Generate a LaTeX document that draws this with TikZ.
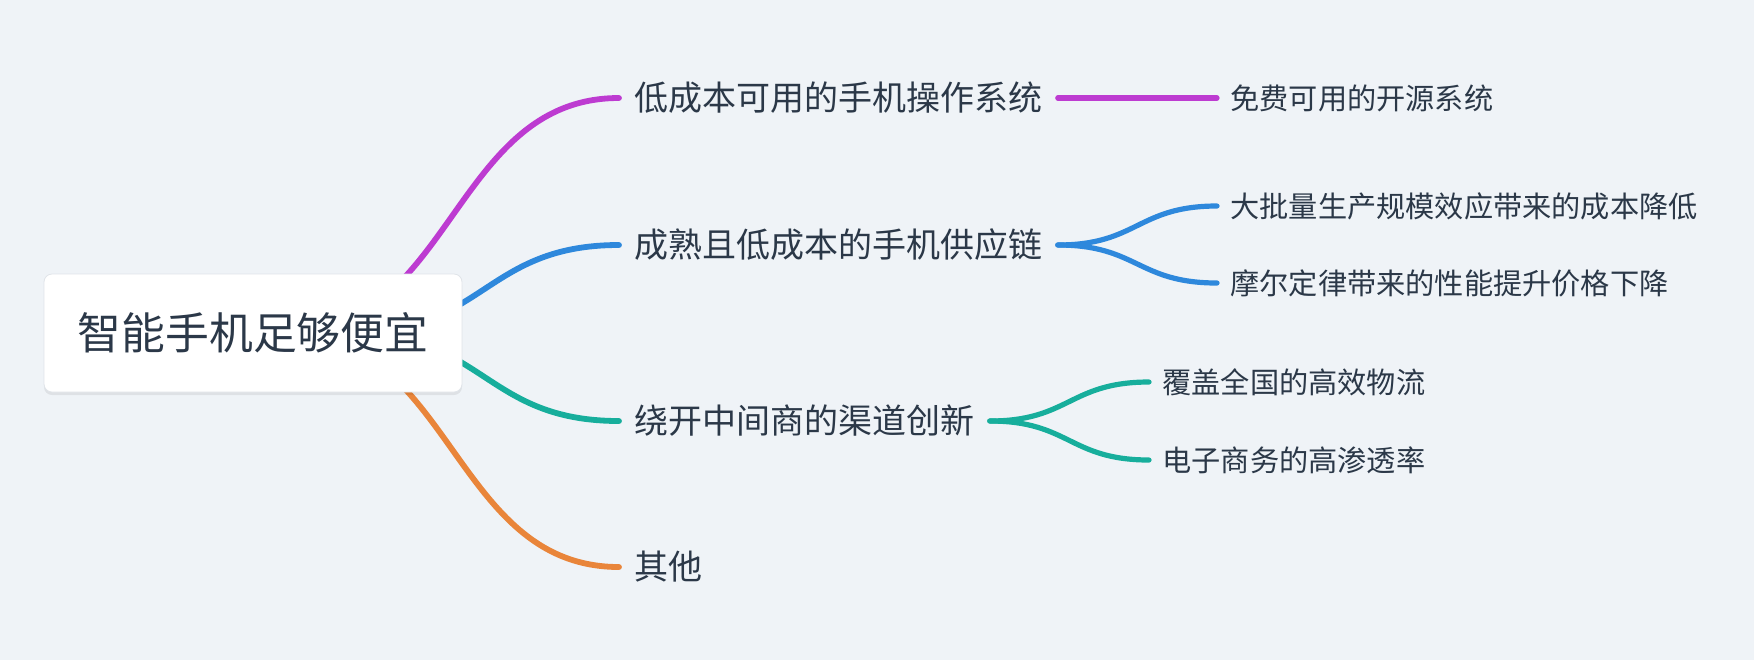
\documentclass[tikz,border=0pt]{standalone}
\usepackage{fontspec}
\newfontfamily\cjk{Noto Sans CJK SC}
\usetikzlibrary{calc,backgrounds,shadows}
\definecolor{bgc}{HTML}{EFF3F7}
\definecolor{ink}{HTML}{2B3848}
\definecolor{cmag}{HTML}{BD3BD1}
\definecolor{cblue}{HTML}{2E88DC}
\definecolor{cteal}{HTML}{17AE9C}
\definecolor{corange}{HTML}{E9853A}
\definecolor{boxline}{HTML}{E0E4E9}
\begin{document}
\begin{tikzpicture}[x=0.5pt,y=-0.5pt,
  rootbox/.style={draw=boxline, line width=0.4pt, fill=white, rounded corners=4pt,
    minimum width=209pt, minimum height=59pt, inner sep=0pt, text=ink,
    font=\cjk\fontsize{21.9}{26}\selectfont,
    drop shadow={shadow xshift=0pt, shadow yshift=-1.5pt, opacity=0.07, fill=black}},
  lvlone/.style={anchor=west, inner xsep=7.5pt, inner ysep=2pt, text=ink,
    font=\cjk\fontsize{17}{20}\selectfont},
  lvltwo/.style={anchor=west, inner xsep=6.5pt, inner ysep=2pt, text=ink,
    font=\cjk\fontsize{14.6}{18}\selectfont},
  branch/.style={line width=2.9pt, line cap=round},
  twig/.style={line width=2.6pt, line cap=round},
  hcurve/.style={to path={let \p1=(\tikztostart), \p2=(\tikztotarget) in
    .. controls ({0.5*(\x1+\x2)},\y1) and ({0.5*(\x1+\x2)},\y2) .. (\tikztotarget) \tikztonodes}}
]
\useasboundingbox (0,0) rectangle (1754,660);

% nodes
\node[rootbox] (root) at (253,333) {智能手机足够便宜};

\node[lvlone] (a) at (619,98)  {低成本可用的手机操作系统};
\node[lvlone] (b) at (619,245) {成熟且低成本的手机供应链};
\node[lvlone] (c) at (619,421) {绕开中间商的渠道创新};
\node[lvlone] (d) at (619,567) {其他};

\node[lvltwo] (a1) at (1217,98)  {免费可用的开源系统};
\node[lvltwo] (b1) at (1217,206) {大批量生产规模效应带来的成本降低};
\node[lvltwo] (b2) at (1217,283) {摩尔定律带来的性能提升价格下降};
\node[lvltwo] (c1) at (1149,382) {覆盖全国的高效物流};
\node[lvltwo] (c2) at (1149,460) {电子商务的高渗透率};

\coordinate (s1) at (286,333);
\coordinate (s2) at (350,333);

\begin{scope}[on background layer]
  \fill[bgc] (0,0) rectangle (1754,660);
  % root to level one
  \draw[branch, cmag]    (s1) to[hcurve] (a.west);
  \draw[branch, cblue]   (s2) to[hcurve] (b.west);
  \draw[branch, cteal]   (s2) to[hcurve] (c.west);
  \draw[branch, corange] (s1) to[hcurve] (d.west);
  % level one to level two
  \draw[twig, cmag]  (a.east) -- (a1.west);
  \draw[twig, cblue] (b.east) to[hcurve] (b1.west);
  \draw[twig, cblue] (b.east) to[hcurve] (b2.west);
  \draw[twig, cteal] (c.east) to[hcurve] (c1.west);
  \draw[twig, cteal] (c.east) to[hcurve] (c2.west);
\end{scope}
\end{tikzpicture}
\end{document}
